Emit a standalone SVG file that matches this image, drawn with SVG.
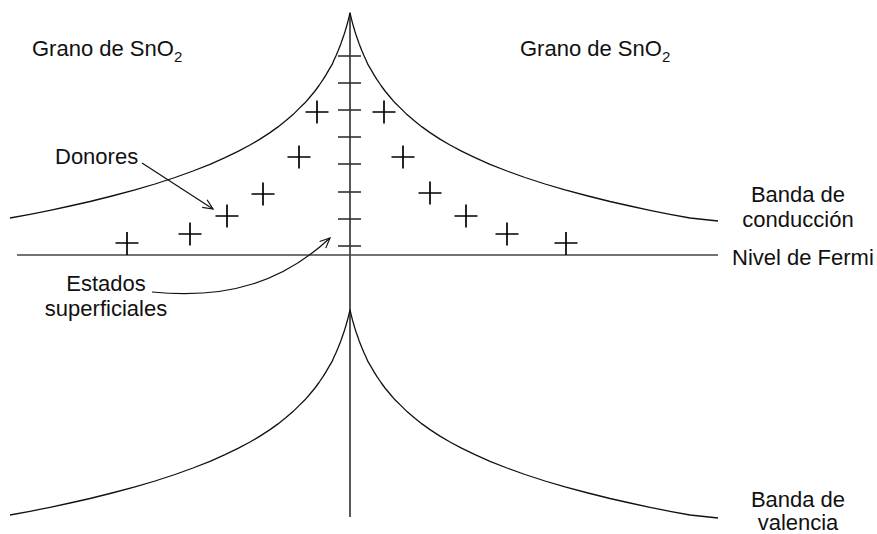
<svg xmlns="http://www.w3.org/2000/svg" xmlns:xlink="http://www.w3.org/1999/xlink" width="877" height="534" viewBox="0 0 877 534">
<style>
text{font-family:"Liberation Sans",Arial,Helvetica,sans-serif;font-size:22px;fill:#111}
.band{fill:none;stroke:#111;stroke-width:1.3;stroke-linejoin:round}
.axis{stroke:#111;stroke-width:1.4}
.fermi{stroke:#444;stroke-width:1.6}
.tick{stroke:#333;stroke-width:1.6}
.plus{stroke:#000;stroke-width:1.7}
.arrow{fill:none;stroke:#111;stroke-width:1.2}
</style>
<defs>
<marker id="open" viewBox="-12 -6 14 12" markerWidth="14" markerHeight="12" refX="0" refY="0" orient="auto" markerUnits="userSpaceOnUse">
<path d="M-10,-4.5 L0,0 L-10,4.5" fill="none" stroke="#111" stroke-width="1.2"/>
</marker>
<path id="bandShape" d="M10,218 L30,214.3 L50,210.3 L70,206 L90,201.5 L112,196 L135,189.9 L155,184 L175,177.5 L193,171 L210,164.3 L225,157.7 L238,151.4 L250,145 L260,139.1 L270,132.6 L278,126.9 L286,120.6 L293,114.6 L299,108.6 L305,102.8 L310,97 L315,91 L319,85.5 L323,79.7 L326,74.8 L329,69.7 L332,64.7 L334,60 L336,55.8 L338,51.1 L339.5,47.3 L341,43.4 L342.5,39 L344,34.8 L345,31.6 L346,28.3 L347,24.8 L348,21.1 L349,17.2 L350,13 L351,17.2 L352,21.1 L353,24.8 L354,28.3 L355,31.6 L356,34.8 L357.5,39 L359,43.4 L360.5,47.3 L362,51.1 L364,55.8 L366,60 L368,64.7 L371,69.7 L374,74.8 L377,79.7 L381,85.5 L385,91 L390,97 L395,102.8 L401,108.6 L407,114.6 L414,120.6 L422,126.9 L430,132.6 L440,139.1 L450,145 L462,151.4 L475,157.7 L490,164.3 L507,171 L525,177.5 L545,184 L565,189.9 L588,196 L610,201.5 L630,206 L650,210.3 L670,214.3 L690,218 L718,221"/>
</defs>

<g id="conduction-band"><use xlink:href="#bandShape" class="band"/></g>
<g id="valence-band"><use xlink:href="#bandShape" class="band" transform="translate(0,297)"/></g>
<g id="interface"><line class="axis" x1="350" y1="13" x2="350" y2="517"/></g>
<g id="fermi-level"><line class="fermi" x1="17" y1="255" x2="718" y2="255"/></g>

<g id="surface-states">
<line class="tick" x1="338" y1="56" x2="361" y2="56"/>
<line class="tick" x1="338" y1="83" x2="361" y2="83"/>
<line class="tick" x1="338" y1="110" x2="361" y2="110"/>
<line class="tick" x1="338" y1="137" x2="361" y2="137"/>
<line class="tick" x1="338" y1="164" x2="361" y2="164"/>
<line class="tick" x1="338" y1="192" x2="361" y2="192"/>
<line class="tick" x1="338" y1="219" x2="361" y2="219"/>
<line class="tick" x1="338" y1="246" x2="361" y2="246"/>
</g>

<g id="donors">
<path class="plus" d="M115.5,243h23M127,232v23"/>
<path class="plus" d="M178.5,234h23M190,222.5v23"/>
<path class="plus" d="M215.5,216h23M227,204.5v23"/>
<path class="plus" d="M251.5,194h23M263,182.5v23"/>
<path class="plus" d="M287.5,157h23M299,145.5v23"/>
<path class="plus" d="M305.5,112h23M317,100.5v23"/>
<path class="plus" d="M372.5,112h23M384,100.5v23"/>
<path class="plus" d="M391.5,157h23M403,145.5v23"/>
<path class="plus" d="M418.5,193h23M430,181.5v23"/>
<path class="plus" d="M454.5,216h23M466,204.5v23"/>
<path class="plus" d="M495.5,234h23M507,222.5v23"/>
<path class="plus" d="M554.5,243h23M566,232v23"/>
</g>

<g id="connectors">
<line class="arrow" x1="142" y1="163" x2="213" y2="209" marker-end="url(#open)"/>
<path class="arrow" d="M152,292 C230,300 285,280 330,238" marker-end="url(#open)"/>
</g>

<g id="label-grain-left"><text x="32" y="56">Grano de SnO<tspan font-size="15" dy="6">2</tspan></text></g>
<g id="label-grain-right"><text x="520" y="56">Grano de SnO<tspan font-size="15" dy="6">2</tspan></text></g>
<g id="label-donores"><text x="55" y="164">Donores</text></g>
<g id="label-estados"><text x="106" y="291" text-anchor="middle">Estados</text><text x="106" y="316" text-anchor="middle">superficiales</text></g>
<g id="label-conduccion"><text x="798" y="202" text-anchor="middle">Banda de</text><text x="798" y="227" text-anchor="middle">conducción</text></g>
<g id="label-fermi"><text x="732" y="265">Nivel de Fermi</text></g>
<g id="label-valencia"><text x="798" y="507" text-anchor="middle">Banda de</text><text x="798" y="530" text-anchor="middle">valencia</text></g>
</svg>
